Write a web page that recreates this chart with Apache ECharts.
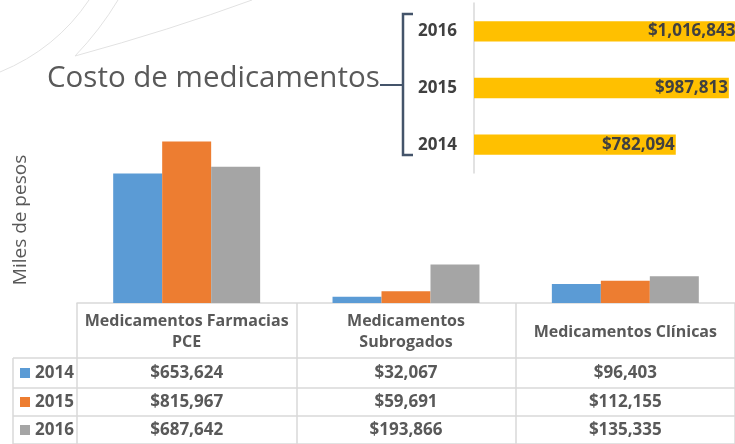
<!DOCTYPE html>
<html>
<head>
<meta charset="utf-8">
<script src="https://cdn.jsdelivr.net/npm/echarts@6/dist/echarts.min.js"></script>
<style>
  html, body { margin: 0; padding: 0; background: #fff; }
  #chart { width: 735px; height: 444px; }
</style>
</head>
<body>
<div id="chart"></div>
<script>
// categorias del grafico principal
const categorias = ['Medicamentos Farmacias\nPCE', 'Medicamentos\nSubrogados', 'Medicamentos Clínicas'];
const anios = ['2014', '2015', '2016'];
const valores2014 = [653624, 32067, 96403];
const valores2015 = [815967, 59691, 112155];
const valores2016 = [687642, 193866, 135335];
// costo total por año (grafico de arriba)
const aniosTotal = ['2014', '2015', '2016'];
const totales = [782094, 987813, 1016843];

const colores = ['#5B9BD5', '#ED7D31', '#A5A5A5'];
const series = [valores2014, valores2015, valores2016];
const fuente = 'Open Sans';
const gris = '#d9d9d9';

function pesos(v) {
    return '$' + v.toLocaleString('en-US');
}

let myChart = echarts.init(document.getElementById('chart'));

myChart.setOption({
    animation: false,
    textStyle: { fontFamily: fuente },
    grid: [
        { left: 77, top: 105, right: -5, bottom: 141 },
        { left: 474, top: 3, width: 258, height: 170 }
    ],
    xAxis: [
        {
            type: 'category',
            gridIndex: 0,
            data: categorias,
            axisLine: { lineStyle: { color: gris, width: 1.5 } },
            // los ticks hacen de lineas verticales de la tabla
            axisTick: { show: true, interval: 0, length: 141, lineStyle: { color: gris, width: 1.5 } },
            axisLabel: {
                interval: 0,
                margin: 29,
                verticalAlign: 'middle',
                lineHeight: 21,
                fontSize: 16,
                fontWeight: 'bold',
                color: '#595959'
            }
        },
        {
            type: 'value',
            gridIndex: 1,
            min: 0,
            max: 1000000,
            show: false
        }
    ],
    yAxis: [
        {
            type: 'value',
            gridIndex: 0,
            min: 0,
            max: 1000000,
            show: false
        },
        {
            type: 'category',
            gridIndex: 1,
            data: aniosTotal,
            axisLine: { lineStyle: { color: gris, width: 1.5 } },
            axisTick: { show: false },
            axisLabel: {
                margin: 17,
                fontSize: 17,
                fontWeight: 'bold',
                color: '#404040'
            }
        }
    ],
    series: series.map((item, index) => ({
        name: anios[index],
        type: 'bar',
        xAxisIndex: 0,
        yAxisIndex: 0,
        data: item,
        itemStyle: { color: colores[index] },
        barGap: '0%',
        barCategoryGap: '33%'
    })).concat([{
        name: 'total',
        type: 'bar',
        xAxisIndex: 1,
        yAxisIndex: 1,
        data: totales,
        clip: false,
        barCategoryGap: '64%',
        itemStyle: { color: '#FFC000' },
        label: {
            show: true,
            position: 'insideRight',
            distance: 1,
            fontSize: 17,
            fontWeight: 'bold',
            color: '#404040',
            formatter: p => pesos(p.value)
        }
    }])
});

// tabla de datos debajo del eje, usando las posiciones del eje
const filasY = [373, 402, 430];
const lineasY = [358, 388, 416, 444];
let graficos = [];

// curvas decorativas del fondo
graficos.push({ type: 'bezierCurve', shape: { x1: 0, y1: 72, cpx1: 56, cpy1: 49, x2: 89, y2: 0 }, style: { stroke: '#e2e2e2', lineWidth: 1, fill: null } });
graficos.push({ type: 'bezierCurve', shape: { x1: 118, y1: 0, cpx1: 100, cpy1: 30, x2: 75, y2: 56 }, style: { stroke: '#e2e2e2', lineWidth: 1, fill: null } });
graficos.push({ type: 'bezierCurve', shape: { x1: 75, y1: 56, cpx1: 170, cpy1: 30, x2: 252, y2: 0 }, style: { stroke: '#e2e2e2', lineWidth: 1, fill: null } });

// titulo y llave
graficos.push({ type: 'text', left: 47, top: 64, style: { text: 'Costo de medicamentos', font: '29.5px "Open Sans"', fill: '#595959' } });
graficos.push({ type: 'polyline', shape: { points: [[413, 14], [403, 14], [403, 155], [413, 155]] }, style: { stroke: '#44546A', lineWidth: 2.5, fill: null } });
graficos.push({ type: 'line', shape: { x1: 380, y1: 85, x2: 403, y2: 85 }, style: { stroke: '#44546A', lineWidth: 2 } });

// nombre del eje
graficos.push({ type: 'text', x: 21, y: 220, rotation: Math.PI / 2, style: { text: 'Miles de pesos', font: '19px "Open Sans"', fill: '#595959', align: 'center', verticalAlign: 'middle' } });

// lineas horizontales de la tabla
lineasY.forEach(y => {
    graficos.push({ type: 'line', shape: { x1: 13, y1: y, x2: 735, y2: y }, style: { stroke: gris, lineWidth: 1.5 } });
});
graficos.push({ type: 'line', shape: { x1: 13, y1: 358, x2: 13, y2: 444 }, style: { stroke: gris, lineWidth: 1.5 } });

series.forEach((item, i) => {
    const y = filasY[i];
    graficos.push({ type: 'rect', shape: { x: 20, y: y - 5, width: 10, height: 10 }, style: { fill: colores[i] } });
    graficos.push({ type: 'text', x: 35, y: y, style: { text: anios[i], font: 'bold 17px "Open Sans"', fill: '#595959', verticalAlign: 'middle' } });
    item.forEach((v, j) => {
        const x = myChart.convertToPixel({ xAxisIndex: 0 }, j);
        graficos.push({ type: 'text', x: x, y: y, style: { text: pesos(v), font: 'bold 17px "Open Sans"', fill: '#595959', align: 'center', verticalAlign: 'middle' } });
    });
});

myChart.setOption({ graphic: graficos });
</script>
</body>
</html>
